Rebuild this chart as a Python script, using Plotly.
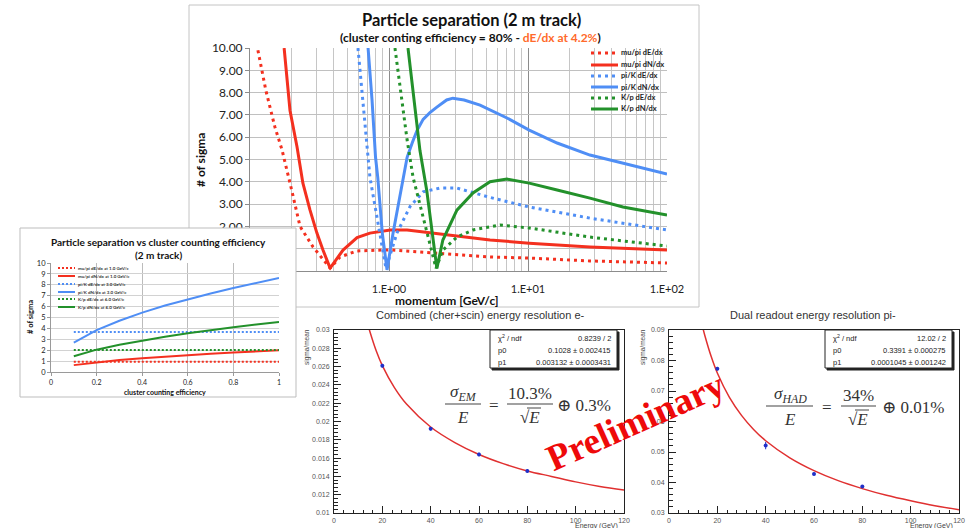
import plotly.graph_objects as go

W, H = 972, 528
def X(p): return p / W
def Y(p): return 1 - p / H

RED, BLUE, GREEN = '#f4301f', '#4f8ef5', '#23912b'
ORANGE = '#ff6a2b'

# ---------------- main chart: separation vs momentum (2 m track) ----------------
mupi_dedx_p = [0.114, 0.130, 0.151, 0.170, 0.200, 0.229, 0.284, 0.377, 0.444, 0.589, 1.02, 1.76, 3.08, 5.33, 10.2, 27.9, 100]
mupi_dedx_s = [9.9, 8.1, 6.46, 5.43, 3.6, 2.0, 1.08, 0.13, 0.63, 0.9, 0.95, 0.85, 0.72, 0.63, 0.58, 0.45, 0.36]

mupi_dndx_p = [0.176, 0.194, 0.218, 0.240, 0.270, 0.303, 0.335, 0.377, 0.467, 0.589, 0.729, 1.02, 1.35, 1.76, 3.08, 5.33, 10.2, 27.9, 100]
mupi_dndx_s = [10.0, 7.2, 5.56, 3.95, 2.74, 1.7, 0.94, 0.13, 0.94, 1.5, 1.7, 1.84, 1.84, 1.75, 1.57, 1.39, 1.25, 1.08, 0.94]

pik_dedx_p = [0.598, 0.640, 0.707, 0.729, 0.820, 0.906, 0.951, 1.14, 1.42, 1.76, 2.33, 3.08, 5.33, 10.2, 27.9, 100]
pik_dedx_s = [10.0, 8.1, 5.3, 4.2, 2.4, 0.94, 0.12, 1.7, 2.9, 3.55, 3.72, 3.72, 3.3, 2.87, 2.37, 1.84]

pik_dndx_p = [0.707, 0.755, 0.800, 0.830, 0.895, 0.968, 1.07, 1.26, 1.35, 1.47, 1.59, 1.76, 1.97, 2.21, 2.60, 2.88, 3.47, 4.52, 7.06, 10.2, 16.2, 27.9, 48.2, 100]
pik_dndx_s = [10.0, 7.67, 5.1, 4.2, 1.7, 0.05, 1.7, 4.2, 5.1, 5.75, 6.3, 6.8, 7.1, 7.35, 7.67, 7.75, 7.67, 7.44, 6.86, 6.32, 5.74, 5.2, 4.84, 4.35]

kp_dedx_p = [1.104, 1.20, 1.35, 1.49, 1.76, 1.97, 2.18, 2.44, 3.08, 4.02, 6.29, 10.2, 27.9, 100]
kp_dedx_s = [10.0, 8.25, 5.87, 4.2, 2.4, 1.08, 0.12, 0.94, 1.52, 1.84, 2.06, 1.93, 1.52, 1.12]

kp_dndx_p = [1.37, 1.51, 1.67, 1.87, 2.04, 2.21, 2.44, 3.08, 4.02, 5.33, 7.06, 10.2, 16.2, 27.9, 48.2, 100]
kp_dndx_s = [10.0, 7.6, 5.4, 3.6, 1.7, 0.12, 1.39, 2.73, 3.5, 4.0, 4.12, 3.94, 3.63, 3.27, 2.87, 2.51]

main_names = ['mu/pi dE/dx', 'mu/pi dN/dx', 'pi/K dE/dx', 'pi/K dN/dx', 'K/p dE/dx', 'K/p dN/dx']
main_x_ticks = [0.1, 1, 10, 100]
main_x_ticktext = ['', '1.E+00', '1.E+01', '1.E+02']   # 1.E-01 hidden behind the inset panel
main_y_ticks = [0, 1, 2, 3, 4, 5, 6, 7, 8, 9, 10]
main_y_ticktext = ['', '', '2.00', '3.00', '4.00', '5.00', '6.00', '7.00', '8.00', '9.00', '10.00']

# ---------------- inset: separation vs cluster counting efficiency ----------------
eff = [0.1, 0.2, 0.3, 0.4, 0.5, 0.6, 0.7, 0.8, 0.9, 1.0]
in_mupi_dedx = [0.93, 0.93, 0.93, 0.93, 0.93, 0.93, 0.93, 0.93, 0.93, 0.93]
in_mupi_dndx = [0.63, 0.89, 1.09, 1.26, 1.41, 1.54, 1.67, 1.78, 1.89, 1.99]
in_pik_dedx = [3.68, 3.68, 3.68, 3.68, 3.68, 3.68, 3.68, 3.68, 3.68, 3.68]
in_pik_dndx = [2.7, 3.85, 4.7, 5.45, 6.1, 6.67, 7.2, 7.7, 8.17, 8.62]
in_kp_dedx = [2.02, 2.02, 2.02, 2.02, 2.02, 2.02, 2.02, 2.02, 2.02, 2.02]
in_kp_dndx = [1.45, 2.05, 2.5, 2.9, 3.24, 3.55, 3.84, 4.1, 4.35, 4.58]
inset_names = ['mu/pi dE/dx at 1.0 GeV/c', 'mu/pi dN/dx at 1.0 GeV/c', 'pi/K dE/dx at 3.0 GeV/c',
               'pi/K dN/dx at 3.0 GeV/c', 'K/p dE/dx at 6.0 GeV/c', 'K/p dN/dx at 6.0 GeV/c']

# ---------------- ROOT plots ----------------
e_energy = [20, 40, 60, 80]
e_res = [0.0261, 0.0192, 0.0164, 0.0146]
e_err = [0.0002, 0.0002, 0.0002, 0.0002]
e_fit_E = [12.5, 13.5, 15, 17.5, 20, 25, 30, 40, 50, 60, 70, 80, 90, 100, 110, 120]
e_fit_res = [0.0322, 0.0311, 0.0297, 0.0277, 0.0261, 0.0237, 0.0219, 0.0194, 0.0177, 0.0164, 0.0154, 0.0146, 0.0140, 0.0134, 0.0129, 0.0125]
e_stats = [('χ<sup>2</sup> / ndf', '0.8239 / 2'), ('p0', '0.1028 ± 0.002415'), ('p1', '0.003132 ± 0.0003431')]

pi_energy = [20, 40, 60, 80]
pi_res = [0.0773, 0.0521, 0.0428, 0.0387]
pi_err = [0.0006, 0.0012, 0.0005, 0.0004]
pi_fit_E = [13, 14, 15, 17.5, 20, 25, 30, 35, 40, 50, 60, 70, 80, 90, 100, 110, 120]
pi_fit_res = [0.0942, 0.0907, 0.0877, 0.0812, 0.0759, 0.0679, 0.0620, 0.0574, 0.0537, 0.0481, 0.0439, 0.0406, 0.0380, 0.0358, 0.0340, 0.0324, 0.0311]
pi_stats = [('χ<sup>2</sup> / ndf', '12.02 / 2'), ('p0', '0.3391 ± 0.000275'), ('p1', '0.0001045 ± 0.001242')]

fig = go.Figure()

# main chart traces
main_data = [(mupi_dedx_p, mupi_dedx_s, RED, True), (mupi_dndx_p, mupi_dndx_s, RED, False),
             (pik_dedx_p, pik_dedx_s, BLUE, True), (pik_dndx_p, pik_dndx_s, BLUE, False),
             (kp_dedx_p, kp_dedx_s, GREEN, True), (kp_dndx_p, kp_dndx_s, GREEN, False)]
for (px_, sy, col, dotted), nm in zip(main_data, main_names):
    fig.add_trace(go.Scatter(x=px_, y=sy, name=nm, mode='lines',
                             line=dict(color=col, width=3, dash='3px,4px' if dotted else 'solid'),
                             xaxis='x', yaxis='y', showlegend=False, hoverinfo='skip'))

# cover subplot (inset panel background)
fig.add_trace(go.Scatter(x=[None], y=[None], xaxis='x2', yaxis='y2', showlegend=False, hoverinfo='skip'))

# inset traces
inset_data = [(in_mupi_dedx, RED, True), (in_mupi_dndx, RED, False), (in_pik_dedx, BLUE, True),
              (in_pik_dndx, BLUE, False), (in_kp_dedx, GREEN, True), (in_kp_dndx, GREEN, False)]
for (vals, col, dotted), nm in zip(inset_data, inset_names):
    fig.add_trace(go.Scatter(x=eff, y=vals, name=nm, mode='lines',
                             line=dict(color=col, width=2, dash='2px,2px' if dotted else 'solid'),
                             xaxis='x3', yaxis='y3', showlegend=False, hoverinfo='skip'))

# ROOT plots
fig.add_trace(go.Scatter(x=e_fit_E, y=e_fit_res, mode='lines', line=dict(color='#e03030', width=1.5, shape='spline'),
                         xaxis='x4', yaxis='y4', showlegend=False, hoverinfo='skip'))
fig.add_trace(go.Scatter(x=e_energy, y=e_res, mode='markers', marker=dict(color='#2030c8', size=4),
                         error_y=dict(type='data', array=e_err, color='#2030c8', thickness=1, width=0),
                         xaxis='x4', yaxis='y4', showlegend=False, hoverinfo='skip'))
fig.add_trace(go.Scatter(x=pi_fit_E, y=pi_fit_res, mode='lines', line=dict(color='#e03030', width=1.5, shape='spline'),
                         xaxis='x5', yaxis='y5', showlegend=False, hoverinfo='skip'))
fig.add_trace(go.Scatter(x=pi_energy, y=pi_res, mode='markers', marker=dict(color='#2030c8', size=4),
                         error_y=dict(type='data', array=pi_err, color='#2030c8', thickness=1, width=0),
                         xaxis='x5', yaxis='y5', showlegend=False, hoverinfo='skip'))

LATO = 'Lato, Carlito, sans-serif'
SANS = 'Liberation Sans, Arial, sans-serif'
SERIF = 'Liberation Serif, DejaVu Serif, serif'

minor_log = [m * d for d in [0.1, 1, 10] for m in range(2, 10)]

root_x = dict(range=[0, 120], dtick=20, tick0=0, ticks='inside', ticklen=7, tickcolor='#222',
              minor=dict(dtick=4, tick0=0, ticks='inside', ticklen=3.5, tickcolor='#222'),
              showline=True, mirror=True, linecolor='#222', linewidth=1, showgrid=False, zeroline=False,
              tickfont=dict(family=SANS, size=7, color='#555'), ticklabelstandoff=1, automargin=False)
root_y = dict(ticks='inside', ticklen=7, tickcolor='#222',
              showline=True, mirror=True, linecolor='#222', linewidth=1, showgrid=False, zeroline=False,
              tickfont=dict(family=SANS, size=7, color='#555'), ticklabelstandoff=2, automargin=False)

fig.update_layout(
    template='none',
    width=W, height=H, margin=dict(l=0, r=0, t=0, b=0, pad=0, autoexpand=False),
    paper_bgcolor='white', plot_bgcolor='white', showlegend=False,
    xaxis=dict(type='log', domain=[X(250), X(667)], range=[-1, 2], anchor='y',
               tickmode='array', tickvals=main_x_ticks, ticktext=main_x_ticktext,
               showgrid=True, gridcolor='#8c8c8c', gridwidth=1,
               minor=dict(tickvals=minor_log, showgrid=True, gridcolor='#c6c6c6', gridwidth=1),
               ticks='', showline=True, linecolor='#8c8c8c', zeroline=False, automargin=False,
               tickfont=dict(family=LATO, size=11, color='#222'), ticklabelstandoff=8),
    yaxis=dict(domain=[Y(271), Y(48)], range=[0, 10], anchor='x',
               tickmode='array', tickvals=main_y_ticks, ticktext=main_y_ticktext,
               showgrid=True, gridcolor='#c0c0c0', showline=True, linecolor='#8c8c8c', zeroline=False,
               ticks='outside', ticklen=4, tickcolor='#8c8c8c', automargin=False,
               tickfont=dict(family=LATO, size=12, color='#222')),
    xaxis2=dict(domain=[X(20), X(296)], range=[0, 1], anchor='y2', visible=False, automargin=False),
    yaxis2=dict(domain=[Y(397), Y(228)], range=[0, 1], anchor='x2', visible=False, automargin=False),
    xaxis3=dict(domain=[X(51), X(279)], range=[0, 1], anchor='y3', dtick=0.2, tick0=0,
                showgrid=True, gridcolor='#bcbcbc', showline=True, linecolor='#9a9a9a', zeroline=False,
                ticks='outside', ticklen=3, tickcolor='#9a9a9a', automargin=False,
                tickfont=dict(family=LATO, size=7, color='#222'), ticklabelstandoff=1),
    yaxis3=dict(domain=[Y(372), Y(263)], range=[0, 10], anchor='x3', dtick=1, tick0=0,
                showgrid=True, gridcolor='#d2d2d2', showline=True, linecolor='#9a9a9a', zeroline=False,
                ticks='outside', ticklen=3, tickcolor='#9a9a9a', automargin=False,
                tickfont=dict(family=LATO, size=7.5, color='#222')),
    xaxis4=dict(domain=[X(334), X(624)], anchor='y4', **root_x),
    yaxis4=dict(domain=[Y(513), Y(330)], anchor='x4', range=[0.01, 0.03], dtick=0.002, tick0=0.01,
                minor=dict(dtick=0.0004, tick0=0.01, ticks='inside', ticklen=3.5, tickcolor='#222'), **root_y),
    xaxis5=dict(domain=[X(669), X(959)], anchor='y5', **root_x),
    yaxis5=dict(domain=[Y(513), Y(330)], anchor='x5', range=[0.03, 0.09], dtick=0.01, tick0=0.03,
                minor=dict(dtick=0.002, tick0=0.03, ticks='inside', ticklen=3.5, tickcolor='#222'), **root_y),
)

shapes = []
def rect(x0, y0, x1, y1, line='#bdbdbd', fill=None, layer='below', lw=1):
    d = dict(type='rect', xref='paper', yref='paper', x0=X(x0), x1=X(x1), y0=Y(y1), y1=Y(y0),
             line=dict(color=line, width=lw), layer=layer)
    if fill:
        d['fillcolor'] = fill
    shapes.append(d)
def hline(x0, x1, y, color, width=1, dash='solid', layer='above'):
    shapes.append(dict(type='line', xref='paper', yref='paper', x0=X(x0), x1=X(x1), y0=Y(y), y1=Y(y),
                       line=dict(color=color, width=width, dash=dash), layer=layer))

# main panel frame
rect(189, 5, 699, 307, line='#c4c4c4', fill='white', layer='below')
# inset panel frame
rect(20, 228, 296, 397, line='#bdbdbd', layer='above')

annotations = []
def ann(x, y, text, size, family=LATO, color='#111', xanchor='center', yanchor='middle', angle=0, **kw):
    annotations.append(dict(x=X(x), y=Y(y), xref='paper', yref='paper', text=text, showarrow=False,
                            xanchor=xanchor, yanchor=yanchor, textangle=angle,
                            font=dict(family=family, size=size, color=color), **kw))

# main titles
ann(471, 20, '<b>Particle separation (2 m track)</b>', 16.5)
ann(470, 37, '<b>(cluster conting efficiency = 80% - <span style="color:' + ORANGE + '">dE/dx at 4.2%</span>)</b>', 12)
ann(201, 160, '<b># of sigma</b>', 12, angle=-90)
ann(447, 300, '<b>momentum [GeV/c]</b>', 12)

# main legend
leg_y = [53, 65, 76, 87, 98, 109]
leg_style = [(RED, True), (RED, False), (BLUE, True), (BLUE, False), (GREEN, True), (GREEN, False)]
for yy, (col, dotted), nm in zip(leg_y, leg_style, main_names):
    hline(591, 618, yy, col, width=3, dash='3px,4px' if dotted else 'solid')
    ann(619, yy, '<b>' + nm + '</b>', 7.5, xanchor='left', color='#222')

# inset titles
ann(158, 242, '<b>Particle separation vs cluster counting efficiency</b>', 10)
ann(158, 255, '<b>(2 m track)</b>', 10)
ann(30, 317, '<b># of sigma</b>', 7.5, angle=-90)
ann(165, 392, '<b>cluster counting efficiency</b>', 7)
in_leg_y = [268, 276, 284, 292, 299, 307]
for yy, (col, dotted), nm in zip(in_leg_y, leg_style, inset_names):
    hline(58, 75, yy, col, width=2, dash='2px,2px' if dotted else 'solid')
    ann(76, yy, '<b>' + nm + '</b>', 4.5, xanchor='left', color='#333')

# ROOT titles
ann(480, 315, 'Combined (cher+scin) energy resolution e-', 11, family=SANS, color='#333')
ann(813, 315, 'Dual readout energy resolution pi-', 11, family=SANS, color='#333')
ann(307, 347, 'sigma/mean', 6.5, family=SANS, color='#444', angle=-90)
ann(643, 347, 'sigma/mean', 6.5, family=SANS, color='#444', angle=-90)
ann(596, 526, 'Energy (GeV)', 7, family=SANS, color='#444')
ann(931, 526, 'Energy (GeV)', 7, family=SANS, color='#444')

# stats boxes
for (bx0, bx1), stats in [((490, 617), e_stats), ((825, 952), pi_stats)]:
    rect(bx0 + 2, 332, bx1 + 2, 370, line='#222', fill='#222', layer='above')
    rect(bx0, 330, bx1, 368, line='#222', fill='white', layer='above')
    for yy, (lab, val) in zip([338, 350, 362], stats):
        ann(bx0 + 6, yy, lab, 7.5, family=SANS, color='#222', xanchor='left')
        ann(bx1 - 4, yy, val, 7.5, family=SANS, color='#222', xanchor='right')

# formulas
def formula(cx_num, num, cx_res, res, tail_x, tail, y_num, bar_y, y_den, bar1, bar2):
    ann(cx_num, y_num, num, 17, family=SERIF, color='#333')
    hline(bar1[0], bar1[1], bar_y, '#444', width=1.2)
    ann(cx_num, y_den, '<i>E</i>', 17, family=SERIF, color='#333')
    ann((bar1[1] + bar2[0]) / 2, bar_y + 1, '=', 17, family=SERIF, color='#333')
    ann(cx_res, y_num, res, 17, family=SERIF, color='#333')
    hline(bar2[0], bar2[1], bar_y, '#444', width=1.2)
    ann(cx_res, y_den, '√<i>E</i>', 17, family=SERIF, color='#333')
    hline(cx_res - 3, cx_res + 11, y_den - 9, '#444', width=1)
    ann(tail_x, bar_y + 1, tail, 17, family=SERIF, color='#333', xanchor='left')

formula(463, '<i>σ<sub>EM</sub></i>', 530, '10.3%', 555, '⊕ 0.3%', 393, 404, 417, (445, 481), (507, 553))
formula(790, '<i>σ<sub>HAD</sub></i>', 858, '34%', 880, '⊕ 0.01%', 395, 406, 419, (766, 813), (841, 876))

# Preliminary stamp
ann(635, 421, '<b>Preliminary</b>', 37, family=SERIF, color='#ee0a0a', angle=-24)

fig.update_layout(shapes=shapes, annotations=annotations)
fig.write_html('out.html', config={'displayModeBar': False, 'staticPlot': True},
               post_script="document.body.style.margin='0';document.body.style.padding='0';")
